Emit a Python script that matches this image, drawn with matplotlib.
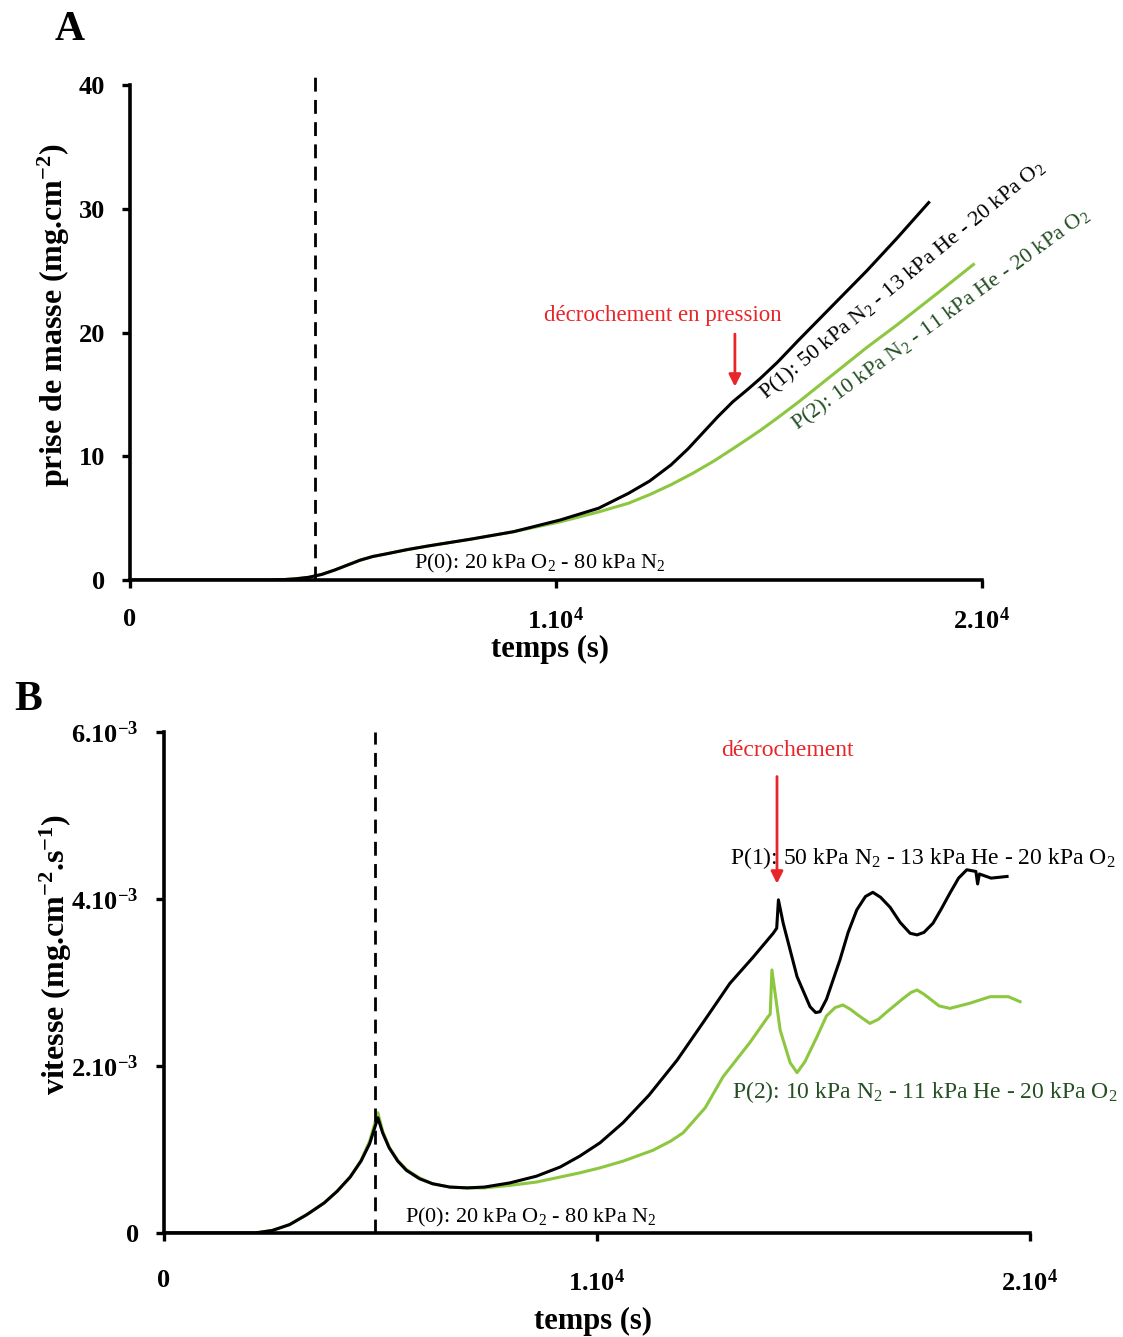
import matplotlib
matplotlib.use('Agg')
import matplotlib.pyplot as plt

plt.rcParams['font.family'] = ['Liberation Serif', 'DejaVu Serif']
plt.rcParams['mathtext.fontset'] = 'custom'
plt.rcParams['mathtext.rm'] = 'Liberation Serif'
plt.rcParams['mathtext.bf'] = 'Liberation Serif:bold'

# --- panel A : prise de masse (mg.cm-2) ---
ta_black = [0, 3300, 3600, 3900, 4200, 4500, 4800, 5100, 5400, 5700, 6000, 6500, 7000,
            8000, 9000, 10100, 11000, 11700, 12200, 12700, 13100, 13450, 13800, 14150,
            14500, 14800, 15200, 15700, 16500, 17300, 18000, 18750]
ma_black = [0, 0, 0.03, 0.1, 0.22, 0.45, 0.8, 1.2, 1.6, 1.9, 2.1, 2.45, 2.75,
            3.3, 3.9, 4.85, 5.8, 7.0, 8.0, 9.3, 10.6, 11.9, 13.2, 14.4,
            15.4, 16.3, 17.6, 19.4, 22.2, 25.0, 27.6, 30.5]
ta_green = [0, 3300, 3600, 3900, 4200, 4500, 4800, 5100, 5400, 5700, 6000, 6500, 7000,
            8000, 9000, 10100, 11000, 11700, 12200, 12700, 13200, 13700, 14150, 14500,
            14800, 15200, 15700, 16500, 17300, 18000, 19000, 19800]
ma_green = [0, 0, 0.03, 0.1, 0.22, 0.45, 0.8, 1.2, 1.6, 1.9, 2.1, 2.45, 2.75,
            3.3, 3.9, 4.7, 5.5, 6.2, 6.9, 7.7, 8.6, 9.6, 10.6, 11.4,
            12.1, 13.1, 14.4, 16.6, 18.8, 20.6, 23.3, 25.5]

# --- panel B : vitesse (x1e-3 mg.cm-2.s-1) ---
tb_black = [0, 2100, 2500, 2900, 3300, 3700, 4000, 4300, 4550, 4750, 4940, 5050, 5200,
            5400, 5600, 5900, 6200, 6600, 7000, 7400, 7990, 8600, 9150, 9600, 10070,
            10600, 11200, 11850, 12450, 13070, 13600, 14070, 14150, 14190, 14300, 14620,
            14920, 15050, 15150, 15300, 15610, 15800, 16000, 16200, 16370, 16550, 16770,
            17000, 17230, 17390, 17550, 17760, 17950, 18150, 18350, 18540, 18750, 18790,
            18830, 19100, 19470]
vb_black = [0, 0, 0.03, 0.1, 0.22, 0.36, 0.5, 0.67, 0.86, 1.07, 1.38, 1.2, 1.02,
            0.86, 0.75, 0.65, 0.59, 0.55, 0.54, 0.55, 0.6, 0.68, 0.79, 0.92, 1.08,
            1.32, 1.65, 2.07, 2.52, 2.99, 3.3, 3.59, 3.65, 3.99, 3.71, 3.07,
            2.71, 2.64, 2.65, 2.8, 3.27, 3.6, 3.87, 4.03, 4.08, 4.02, 3.9,
            3.72, 3.59, 3.57, 3.6, 3.71, 3.88, 4.07, 4.25, 4.35, 4.33, 4.18,
            4.3, 4.25, 4.27]
tb_green = [0, 2100, 2500, 2900, 3300, 3700, 4000, 4300, 4550, 4750, 4940, 5050, 5200,
            5400, 5600, 5900, 6200, 6600, 7000, 7400, 7990, 8600, 9150, 9600, 10070,
            10600, 11290, 11700, 11990, 12500, 12910, 13530, 13950, 14000, 14040, 14230,
            14460, 14620, 14800, 15080, 15300, 15500, 15680, 15850, 16000, 16300, 16500,
            16700, 17050, 17250, 17390, 17550, 17700, 17900, 18150, 18600, 19080, 19500,
            19770]
vb_green = [0, 0, 0.03, 0.1, 0.22, 0.36, 0.5, 0.67, 0.87, 1.1, 1.44, 1.22, 1.03,
            0.87, 0.76, 0.66, 0.59, 0.55, 0.54, 0.54, 0.57, 0.61, 0.67, 0.72, 0.78,
            0.86, 0.99, 1.1, 1.2, 1.5, 1.87, 2.28, 2.59, 2.62, 3.15, 2.43,
            2.04, 1.92, 2.05, 2.35, 2.6, 2.7, 2.73, 2.68, 2.62, 2.51, 2.56,
            2.65, 2.8, 2.88, 2.91, 2.86, 2.8, 2.72, 2.69, 2.75, 2.83, 2.83,
            2.77]

t_switch_a = 4350
t_switch_b = 4870
x_ticks = [0, 10000, 20000]
x_labels = ['0', '1.10$\\mathregular{^{4}}$', '2.10$\\mathregular{^{4}}$']
ya_ticks = [0, 10, 20, 30, 40]
yb_ticks = [0, 2, 4, 6]
yb_labels = ['0', '2.10$\\mathregular{^{-3}}$', '4.10$\\mathregular{^{-3}}$', '6.10$\\mathregular{^{-3}}$']

p0 = 'P(0): 20 kPa O$\\mathregular{_2}$ - 80 kPa N$\\mathregular{_2}$'
p1 = 'P(1): 50 kPa N$\\mathregular{_2}$ - 13 kPa He - 20 kPa O$\\mathregular{_2}$'
p2 = 'P(2): 10 kPa N$\\mathregular{_2}$ - 11 kPa He - 20 kPa O$\\mathregular{_2}$'

black = '#000000'
green = '#8dc63f'
dark_green = '#234f23'
red = '#e8262a'

fig = plt.figure(figsize=(11.23, 13.37), dpi=100)


def style_axes(ax, pad_x):
    for s in ['top', 'right']:
        ax.spines[s].set_visible(False)
    for s in ['left', 'bottom']:
        ax.spines[s].set_linewidth(2.6)
    ax.tick_params(axis='both', direction='out', length=6, width=2.4, labelsize=19)
    ax.tick_params(axis='x', pad=pad_x)
    ax.tick_params(axis='y', pad=12)
    for lab in ax.get_xticklabels() + ax.get_yticklabels():
        lab.set_fontweight('bold')


# ---------- A ----------
axA = fig.add_axes([0.1158, 0.5662, 0.7586, 0.3702])
axA.plot(ta_green, ma_green, color=green, lw=2.2)
axA.plot(ta_black, ma_black, color=black, lw=2.2)
axA.plot([t_switch_a, t_switch_a], [0, 40.8], color='black', lw=2, ls=(0, (5, 3)), clip_on=False)
axA.set_xlim(0, 20000)
axA.set_ylim(0, 40)
axA.set_xticks(x_ticks)
axA.set_xticklabels(x_labels)
axA.set_yticks(ya_ticks)
style_axes(axA, 14)
axA.set_xlabel('temps (s)', fontsize=22, fontweight='bold')
axA.xaxis.set_label_coords(0.493, -0.111)
axA.set_ylabel('prise de masse (mg.cm$\\mathregular{^{-2}}$)', fontsize=23, fontweight='bold')
axA.yaxis.set_label_coords(-0.068, 0.535)

axA.text(9624, 1.37, p0, fontsize=16, ha='center', va='center')
axA.text(18150, 24.2, p1, fontsize=16, ha='center', va='center', rotation=39.5,
         rotation_mode='anchor')
axA.text(19050, 21.0, p2, fontsize=16, ha='center', va='center', rotation=36,
         rotation_mode='anchor', color=dark_green)
axA.text(12512, 21.4, 'décrochement en pression', fontsize=16.5, ha='center', va='center', color=red)
axA.annotate('', xy=(14200, 15.4), xytext=(14200, 20.1),
             arrowprops=dict(arrowstyle='-|>', color=red, lw=2, mutation_scale=18))
fig.text(0.0623, 0.9776, 'A', fontsize=30, fontweight='bold', ha='center', va='center')

# ---------- B ----------
axB = fig.add_axes([0.146, 0.0778, 0.7712, 0.3747])
axB.plot(tb_green, vb_green, color=green, lw=2.2)
axB.plot(tb_black, vb_black, color=black, lw=2.2)
axB.plot([t_switch_b, t_switch_b], [0, 6], color='black', lw=2, ls=(0, (5, 3)), clip_on=False)
axB.set_xlim(0, 20000)
axB.set_ylim(0, 6)
axB.set_xticks(x_ticks)
axB.set_xticklabels(x_labels)
axB.set_yticks(yb_ticks)
axB.set_yticklabels(yb_labels)
style_axes(axB, 20)
axB.set_xlabel('temps (s)', fontsize=22, fontweight='bold')
axB.xaxis.set_label_coords(0.495, -0.148)
axB.set_ylabel('vitesse (mg.cm$\\mathregular{^{-2}}$.s$\\mathregular{^{-1}}$)', fontsize=23,
               fontweight='bold')
axB.yaxis.set_label_coords(-0.104, 0.555)

axB.text(8476, 0.19, p0, fontsize=16, ha='center', va='center')
axB.text(17530, 4.49, p1, fontsize=17, ha='center', va='center')
axB.text(17575, 1.69, p2, fontsize=17, ha='center', va='center', color=dark_green)
axB.text(14390, 5.78, 'décrochement', fontsize=17, ha='center', va='center', color=red)
axB.annotate('', xy=(14157, 4.15), xytext=(14157, 5.5),
             arrowprops=dict(arrowstyle='-|>', color=red, lw=2, mutation_scale=18))
fig.text(0.025, 0.4764, 'B', fontsize=30, fontweight='bold', ha='center', va='center')

fig.savefig('out.png', dpi=100)
